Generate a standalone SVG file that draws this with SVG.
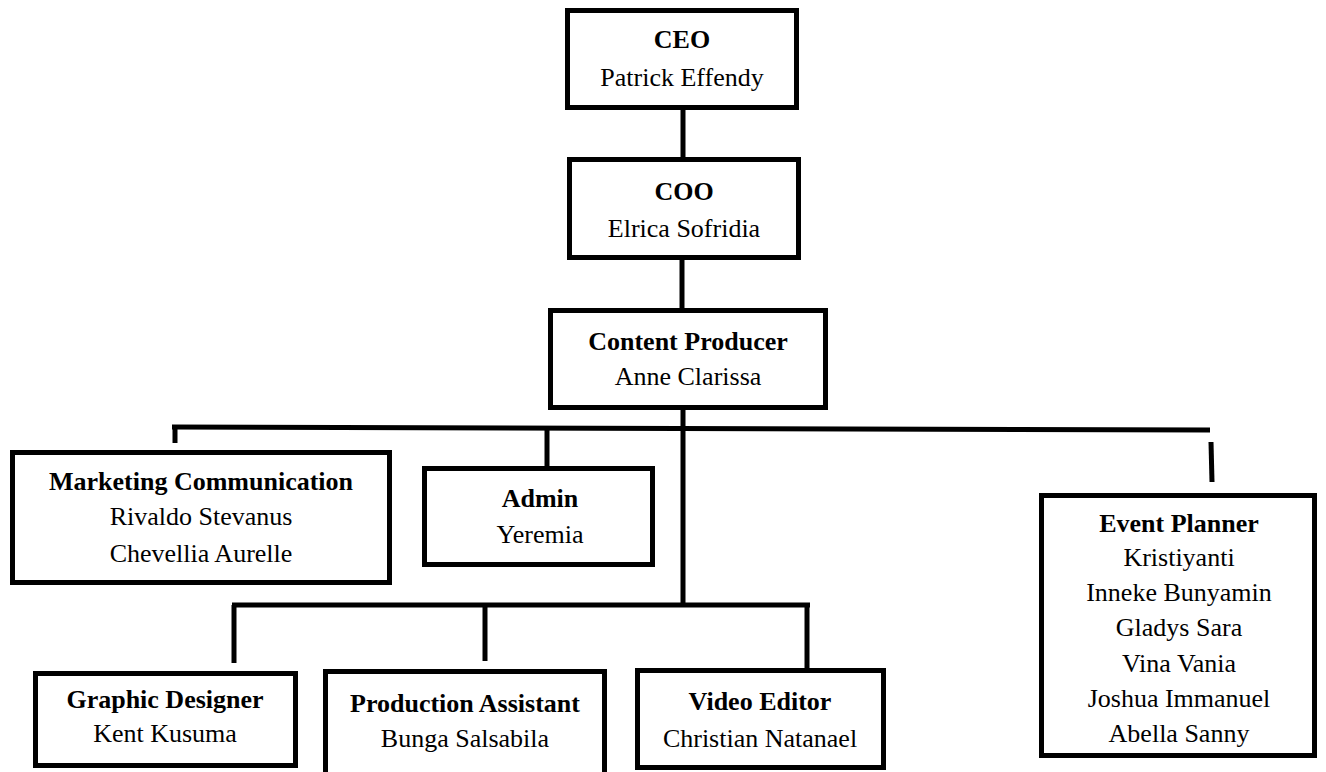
<svg xmlns="http://www.w3.org/2000/svg" width="1326" height="772" viewBox="0 0 1326 772">
<style>
.box{fill:#fff;stroke:#000;stroke-width:5}
.ln{stroke:#000;stroke-width:5;fill:none}
text{font-family:"Liberation Serif","Times New Roman",serif;font-size:26px;fill:#000;text-anchor:middle}
.t{font-weight:bold}
</style>
<rect width="1326" height="772" fill="#fff"/>
<g id="connectors">
<line class="ln" x1="683" y1="108" x2="683" y2="159"/>
<line class="ln" x1="682" y1="258" x2="682" y2="310"/>
<line class="ln" x1="683" y1="408" x2="683" y2="605"/>
<line class="ln" x1="172" y1="427" x2="1210" y2="430"/>
<line class="ln" x1="175" y1="427" x2="175" y2="443"/>
<line class="ln" x1="547" y1="427" x2="547" y2="468"/>
<line class="ln" x1="1211" y1="442" x2="1212" y2="482"/>
<line class="ln" x1="232" y1="605" x2="810" y2="605"/>
<line class="ln" x1="234" y1="605" x2="234" y2="663"/>
<line class="ln" x1="485" y1="605" x2="485" y2="661"/>
<line class="ln" x1="807" y1="605" x2="807" y2="670"/>
</g>
<g id="ceo">
<rect class="box" x="567.5" y="10.5" width="229" height="97"/>
<text class="t" x="682" y="48">CEO</text>
<text x="682" y="86">Patrick Effendy</text>
</g>
<g id="coo">
<rect class="box" x="569.5" y="159.5" width="229" height="98"/>
<text class="t" x="684" y="200">COO</text>
<text x="684" y="237">Elrica Sofridia</text>
</g>
<g id="content-producer">
<rect class="box" x="550.5" y="310.5" width="275" height="97"/>
<text class="t" x="688" y="350">Content Producer</text>
<text x="688" y="385">Anne Clarissa</text>
</g>
<g id="marketing">
<rect class="box" x="12.5" y="452.5" width="377" height="130"/>
<text class="t" x="201" y="490">Marketing Communication</text>
<text x="201" y="525">Rivaldo Stevanus</text>
<text x="201" y="562">Chevellia Aurelle</text>
</g>
<g id="admin">
<rect class="box" x="424.5" y="468.5" width="228" height="96"/>
<text class="t" x="540" y="507">Admin</text>
<text x="540" y="543">Yeremia</text>
</g>
<g id="event-planner">
<rect class="box" x="1041.5" y="495.5" width="273" height="260"/>
<text class="t" x="1179" y="532">Event Planner</text>
<text x="1179" y="566">Kristiyanti</text>
<text x="1179" y="601">Inneke Bunyamin</text>
<text x="1179" y="636">Gladys Sara</text>
<text x="1179" y="672">Vina Vania</text>
<text x="1179" y="707">Joshua Immanuel</text>
<text x="1179" y="742">Abella Sanny</text>
</g>
<g id="graphic-designer">
<rect class="box" x="35.5" y="673.5" width="260" height="92"/>
<text class="t" x="165" y="708">Graphic Designer</text>
<text x="165" y="742">Kent Kusuma</text>
</g>
<g id="production-assistant">
<rect class="box" x="325.5" y="671.5" width="279" height="110"/>
<text class="t" x="465" y="712">Production Assistant</text>
<text x="465" y="747">Bunga Salsabila</text>
</g>
<g id="video-editor">
<rect class="box" x="637.5" y="670.5" width="246" height="97"/>
<text class="t" x="760" y="710">Video Editor</text>
<text x="760" y="747">Christian Natanael</text>
</g>
</svg>
